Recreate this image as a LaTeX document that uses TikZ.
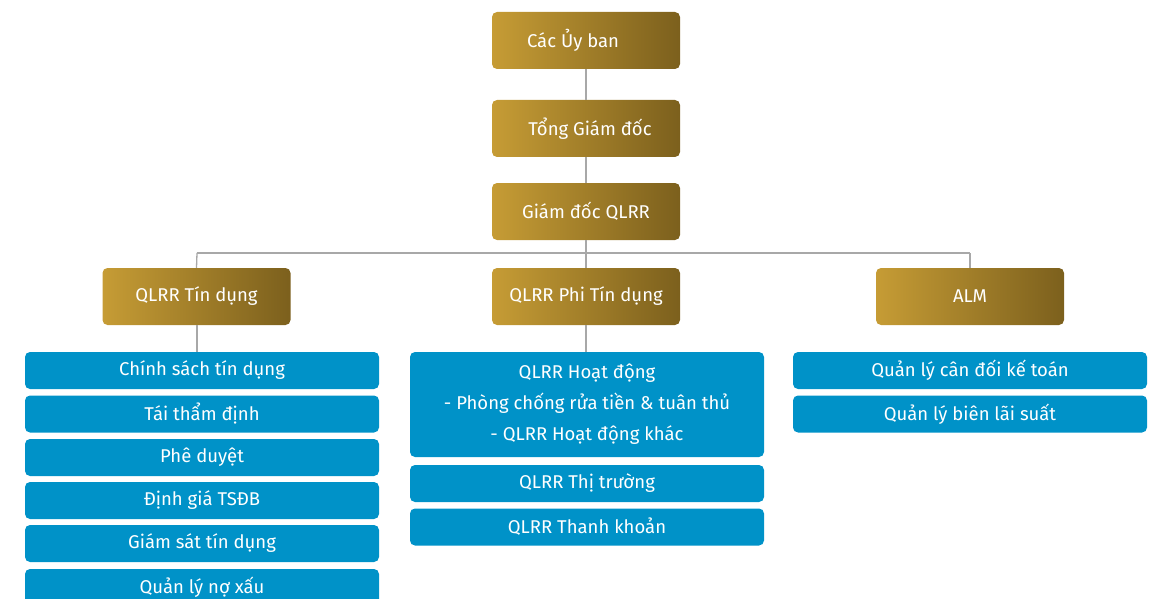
\documentclass[tikz,border=0pt]{standalone}
\usepackage{fontspec}
\setmainfont{Fira Sans}
\definecolor{goldL}{HTML}{C69C35}
\definecolor{goldR}{HTML}{7C601D}
\definecolor{unitblue}{HTML}{0092C8}
\definecolor{linkgray}{HTML}{A8A8A8}
\begin{document}
\begin{tikzpicture}[x=1pt,y=-1pt,
  headbox/.style={rounded corners=5pt, left color=goldL, right color=goldR,
    draw=none, minimum width=188pt, minimum height=57pt, text=white,
    font=\fontsize{18.5}{21}\selectfont, inner sep=0pt},
  unitbox/.style={rounded corners=5pt, fill=unitblue, draw=none,
    minimum width=354pt, minimum height=37pt, text=white,
    font=\fontsize{18.5}{21}\selectfont, inner sep=0pt, align=center},
  link/.style={draw=linkgray, line width=1.3pt}]
\useasboundingbox (0,0) rectangle (1154,599);

% junction points of the bar under the risk director
\coordinate (bar) at (586,253);
\coordinate (barL) at (197,253);
\coordinate (barR) at (970,253);

% upper chain
\node[headbox] (cuyban) at (586,40.5) {\hspace*{-26pt}Các Ủy ban};
\node[headbox] (tgd) at (586,128.5) {\hspace*{8pt}Tổng Giám đốc};
\node[headbox] (gdqlrr) at (586,211.5) {Giám đốc QLRR};

% divisions
\node[headbox] (tindung) at (196.5,296.5) {QLRR Tín dụng};
\node[headbox] (phitd) at (586,296.5) {QLRR Phi Tín dụng};
\node[headbox] (alm) at (970,296.5) {ALM};

% credit units
\node[unitbox] (c1) at (202,370.5) {Chính sách tín dụng};
\node[unitbox] (c2) at (202,414) {Tái thẩm định};
\node[unitbox] (c3) at (202,457.5) {Phê duyệt};
\node[unitbox] (c4) at (202,500.5) {Định giá TSĐB};
\node[unitbox] (c5) at (202,543.5) {Giám sát tín dụng};
\node[unitbox] (c6) at (202,587.5) {Quản lý nợ xấu};

% non-credit units
\node[unitbox, minimum height=105pt,
  font=\fontsize{18.5}{31}\selectfont] (n1) at (587,404.5)
  {QLRR Hoạt động\\- Phòng chống rửa tiền \& tuân thủ\\- QLRR Hoạt động khác};
\node[unitbox] (n2) at (587,483.5) {QLRR Thị trường};
\node[unitbox] (n3) at (587,527) {QLRR Thanh khoản};

% ALM units
\node[unitbox] (a1) at (970,370.5) {Quản lý cân đối kế toán};
\node[unitbox] (a2) at (970,414) {Quản lý biên lãi suất};

% connectors
\path[link] (cuyban.south) -- (tgd.north);
\path[link] (tgd.south) -- (gdqlrr.north);
\path[link] (gdqlrr.south) -- (bar);
\path[link] (barL) -- (barR);
\path[link] (barL) -- (tindung.north);
\path[link] (barR) -- (alm.north);
\path[link] (bar) -- (phitd.north);
\path[link] (tindung.south -| barL) -- (c1.north -| barL);
\path[link] (phitd.south) -- (n1.north -| phitd.south);
\end{tikzpicture}
\end{document}
